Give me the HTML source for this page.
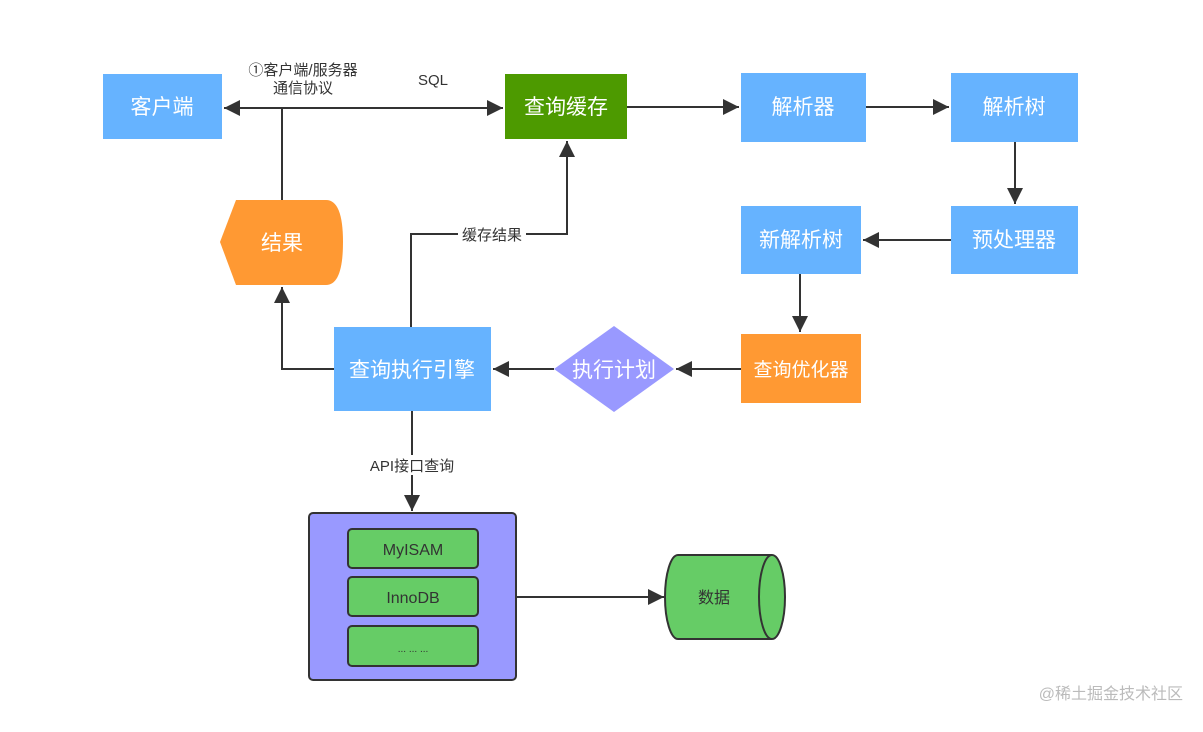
<!DOCTYPE html>
<html><head><meta charset="utf-8"><style>
body{margin:0;background:#fff;}
svg text{font-family:"Liberation Sans","Noto Sans CJK SC",sans-serif;}
</style></head><body>
<svg width="1203" height="727" viewBox="0 0 1203 727" xmlns="http://www.w3.org/2000/svg">
<defs>
<marker id="a" viewBox="0 0 10 10" refX="10" refY="5" markerWidth="16" markerHeight="16" markerUnits="userSpaceOnUse" orient="auto"><path d="M0,0 L10,5 L0,10 z" fill="#333"/></marker>
</defs>
<g stroke="#333" stroke-width="2" fill="none">
<line x1="282" y1="108" x2="224" y2="108" marker-end="url(#a)"/>
<line x1="282" y1="108" x2="503" y2="108" marker-end="url(#a)"/>
<line x1="282" y1="108" x2="282" y2="200"/>
<line x1="627" y1="107" x2="739" y2="107" marker-end="url(#a)"/>
<line x1="866" y1="107" x2="949" y2="107" marker-end="url(#a)"/>
<line x1="1015" y1="142" x2="1015" y2="204" marker-end="url(#a)"/>
<line x1="951" y1="240" x2="863" y2="240" marker-end="url(#a)"/>
<line x1="800" y1="274" x2="800" y2="332" marker-end="url(#a)"/>
<line x1="741" y1="369" x2="676" y2="369" marker-end="url(#a)"/>
<line x1="554" y1="369" x2="493" y2="369" marker-end="url(#a)"/>
<polyline points="334,369 282,369 282,287" marker-end="url(#a)"/>
<polyline points="411,327 411,234 567,234 567,141" marker-end="url(#a)"/>
<line x1="412" y1="411" x2="412" y2="511" marker-end="url(#a)"/>
<line x1="516" y1="597" x2="664" y2="597" marker-end="url(#a)"/>
</g>
<rect x="458" y="224" width="68" height="20" fill="#fff"/>
<text x="492" y="240" font-size="15" text-anchor="middle" fill="#333">缓存结果</text>
<rect x="366" y="455" width="92" height="20" fill="#fff"/>
<text x="412" y="471" font-size="15" text-anchor="middle" fill="#333">API接口查询</text>
<text x="303" y="75" font-size="15" text-anchor="middle" fill="#333">①客户端/服务器</text>
<text x="303" y="93" font-size="15" text-anchor="middle" fill="#333">通信协议</text>
<text x="433" y="85" font-size="15" text-anchor="middle" fill="#333">SQL</text>

<g font-size="21" fill="#fff" text-anchor="middle">
<rect x="103" y="74" width="119" height="65" fill="#66b3ff"/><text x="162" y="114">客户端</text>
<rect x="505" y="74" width="122" height="65" fill="#4d9a00"/><text x="566" y="114">查询缓存</text>
<rect x="741" y="73" width="125" height="69" fill="#66b3ff"/><text x="803" y="114">解析器</text>
<rect x="951" y="73" width="127" height="69" fill="#66b3ff"/><text x="1014" y="114">解析树</text>
<rect x="951" y="206" width="127" height="68" fill="#66b3ff"/><text x="1014" y="247">预处理器</text>
<rect x="741" y="206" width="120" height="68" fill="#66b3ff"/><text x="801" y="247">新解析树</text>
<rect x="741" y="334" width="120" height="69" fill="#ff9933"/><text x="801" y="376" font-size="19">查询优化器</text>
<polygon points="554,369 614,326 674,369 614,412" fill="#9999ff"/><text x="614" y="377">执行计划</text>
<rect x="334" y="327" width="157" height="84" fill="#66b3ff"/><text x="412" y="377">查询执行引擎</text>
<path d="M236,200 L326,200 Q343,200 343,242 Q343,285 326,285 L236,285 L220,242 Z" fill="#ff9933"/><text x="282" y="250">结果</text>
</g>

<rect x="309" y="513" width="207" height="167" rx="4" fill="#9999ff" stroke="#333" stroke-width="2"/>
<g fill="#66cc66" stroke="#333" stroke-width="2">
<rect x="348" y="529" width="130" height="39" rx="4"/>
<rect x="348" y="577" width="130" height="39" rx="4"/>
<rect x="348" y="626" width="130" height="40" rx="4"/>
</g>
<g font-size="16" fill="#333" text-anchor="middle">
<text x="413" y="555">MyISAM</text>
<text x="413" y="603">InnoDB</text>
<text x="413" y="652" font-size="10">...  ...  ...</text>
</g>
<path d="M678,555 L772,555 A13,42 0 0 1 772,639 L678,639 A13,42 0 0 1 678,555 Z" fill="#66cc66" stroke="#333" stroke-width="2"/>
<path d="M772,555 A13,42 0 0 0 772,639" fill="none" stroke="#333" stroke-width="2"/>
<text x="714" y="603" font-size="16" fill="#333" text-anchor="middle">数据</text>
<text x="1183" y="699" font-size="16" fill="#bbb" text-anchor="end">@稀土掘金技术社区</text>
</svg>
</body></html>
